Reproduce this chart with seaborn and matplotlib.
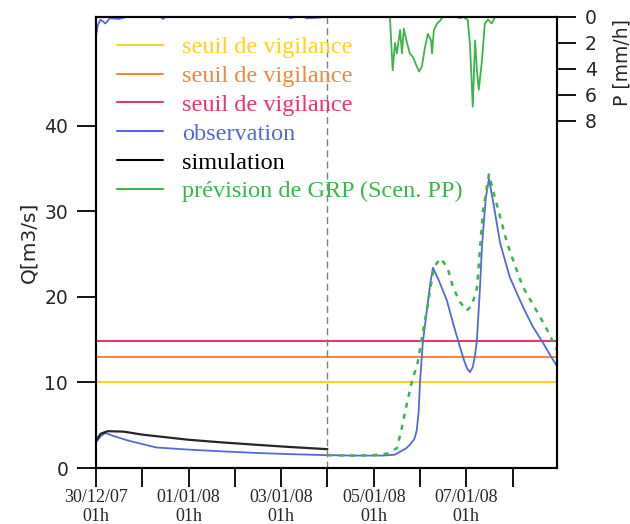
import numpy as np
import pandas as pd
import seaborn as sns
import matplotlib.pyplot as plt
from matplotlib.ticker import MultipleLocator

# temps en jours depuis le 30/12/07 01h
t_obs = [0, 0.1, 0.2, 0.4, 0.7, 1.0, 1.3, 2.0, 2.7, 3.5, 4.2, 5.0, 5.6, 6.2, 6.45, 6.57,
         6.7, 6.78, 6.88, 6.93, 6.97, 7.0, 7.06, 7.15, 7.22, 7.28, 7.4, 7.58, 7.72, 7.86,
         7.95, 8.02, 8.08, 8.14, 8.19, 8.23, 8.29, 8.34, 8.42, 8.49, 8.6, 8.73, 8.94,
         9.16, 9.3, 9.44, 9.65, 9.8, 9.96]
q_obs = [3.0, 3.7, 4.1, 3.7, 3.2, 2.8, 2.4, 2.15, 1.95, 1.75, 1.62, 1.5, 1.45, 1.45, 1.55, 1.9,
         2.3, 2.7, 3.4, 4.4, 6.5, 10.0, 14.6, 18.5, 21.5, 23.4, 22.0, 19.6, 16.8, 14.2,
         12.6, 11.6, 11.2, 11.8, 13.2, 15.0, 20.5, 26.0, 31.5, 33.8, 30.5, 26.3, 22.3,
         19.6, 18.0, 16.5, 14.7, 13.3, 11.9]

t_sim = [0, 0.1, 0.25, 0.6, 1.0, 1.5, 2.0, 2.7, 3.5, 4.2, 5.0]
q_sim = [3.2, 4.0, 4.3, 4.25, 3.9, 3.6, 3.3, 3.0, 2.7, 2.45, 2.2]

t_prev = [5.0, 5.6, 6.0, 6.3, 6.5, 6.6, 6.72, 6.82, 6.95, 7.05, 7.15, 7.3, 7.45, 7.6,
          7.71, 7.85, 8.01, 8.12, 8.23, 8.36, 8.49, 8.6, 8.88, 9.05, 9.22, 9.4, 9.59,
          9.78, 9.96]
q_prev = [1.5, 1.45, 1.5, 1.7, 2.3, 4.5, 7.6, 10.0, 12.3, 15.5, 18.5, 23.5, 24.5, 23.3,
          21.2, 19.5, 18.4, 19.0, 21.0, 30.0, 34.3, 32.0, 26.3, 23.7, 21.2, 19.5, 17.7,
          15.8, 13.8]

# pluie observée (mm/h)
t_pobs = [0, 0.04, 0.1, 0.2, 0.3, 0.5, 0.65, 1.4, 1.45, 1.5, 4.15, 4.2, 4.3, 4.5, 4.55, 5.0]
p_obs = [1.5, 0.6, 0.2, 0.5, 0.1, 0.15, 0.0, 0.0, 0.15, 0.0, 0.0, 0.1, 0.0, 0.0, 0.1, 0.0]

# pluie prévue (mm/h)
t_pprev = [5.0, 6.35, 6.41, 6.46, 6.5, 6.57, 6.61, 6.65, 6.72, 6.78, 6.85, 6.93, 6.98,
           7.04, 7.11, 7.17, 7.24, 7.26, 7.3, 7.37, 7.43, 7.49, 7.8, 7.86, 7.93, 8.03,
           8.08, 8.14, 8.19, 8.23, 8.27, 8.34, 8.4, 8.47, 8.55, 8.62, 9.96]
p_prev = [0.0, 0.0, 4.1, 2.0, 2.8, 1.0, 2.8, 0.9, 2.0, 2.8, 3.1, 3.8, 4.2,
          3.8, 2.3, 1.3, 1.8, 2.8, 1.0, 0.5, 0.3, 0.0, 0.0, 0.1, 0.0, 0.2,
          2.1, 6.9, 1.8, 4.1, 5.6, 3.3, 0.5, 0.2, 0.5, 0.0, 0.0]

seuils = [10.0, 13.0, 14.8]
seuil_colors = ['#FFD21F', '#F4873A', '#E8356A']
c_obs = '#5468E0'
c_prev = '#3DB54A'

xtick_pos = [0, 2, 4, 6, 8]
xtick_labels = ['30/12/07\n01h', '01/01/08\n01h', '03/01/08\n01h', '05/01/08\n01h', '07/01/08\n01h']

sns.set_style('ticks')
plt.rcParams['font.family'] = ['DejaVu Sans']

fig = plt.figure(figsize=(6.3, 5.24), dpi=100)
ax = fig.add_axes([96 / 630, 1 - 468 / 524, (557 - 96) / 630, (468 - 17) / 524])

for s, c in zip(seuils, seuil_colors):
    ax.axhline(s, color=c, lw=1.5, label='seuil de vigilance')

sns.lineplot(x=t_obs, y=q_obs, ax=ax, color=c_obs, lw=1.3, label='observation')
sns.lineplot(x=t_sim, y=q_sim, ax=ax, color='black', lw=1.6, alpha=0.85, label='simulation')
sns.lineplot(x=t_prev, y=q_prev, ax=ax, color=c_prev, lw=1.8, ls=(0, (2, 2.5)),
             label='prévision de GRP (Scen. PP)')
ax.axvline(5.0, color='grey', lw=1.0, ls=(0, (5, 3)))

ax.set_xlim(0, 9.96)
ax.set_ylim(0, 52.7)
ax.set_yticks([0, 10, 20, 30, 40])
ax.set_xticks(xtick_pos)
ax.set_xticklabels(xtick_labels, family='Liberation Serif', fontsize=13, linespacing=1.15)
ax.xaxis.set_minor_locator(MultipleLocator(1))
ax.tick_params(axis='x', which='both', length=14, width=1.3, pad=1, color='black')
ax.tick_params(axis='y', length=14, width=1.3, labelsize=13.5, pad=6, color='black')
ax.set_ylabel('Q[m3/s]', fontsize=14.5, labelpad=4)
ax.set_xlabel('')
for sp in ax.spines.values():
    sp.set_linewidth(1.5)
    sp.set_color('black')

# legende
h, l = ax.get_legend_handles_labels()
leg = ax.legend(h[:6], l[:6], loc='upper left', bbox_to_anchor=(0.008, 0.995), frameon=False,
                prop={'family': 'Liberation Serif', 'size': 17.5}, handlelength=1.9,
                handletextpad=0.8, labelspacing=0.28, borderpad=0.2, labelcolor='linecolor')
for lh in leg.get_lines():
    lh.set_linestyle('-')
    lh.set_linewidth(1.5)
    lh.set_alpha(1)

# axe pluie
ax2 = ax.twinx()
sns.lineplot(x=t_pobs, y=p_obs, ax=ax2, color=c_obs, lw=1.3, legend=False)
sns.lineplot(x=t_pprev, y=p_prev, ax=ax2, color=c_prev, lw=1.3, legend=False)
ax2.set_ylim(34.7, 0)
ax2.set_yticks([0, 2, 4, 6, 8])
ax2.tick_params(axis='y', length=14, width=1.3, labelsize=13.5, pad=6, color='black')
ax2.set_ylabel('P [mm/h]', fontsize=13.5)
ax2.yaxis.set_label_coords(1.12, 0.9)
ax2.set_xlim(0, 9.96)
for sp in ax2.spines.values():
    sp.set_linewidth(1.5)
    sp.set_color('black')

fig.savefig('out.png', dpi=100)
